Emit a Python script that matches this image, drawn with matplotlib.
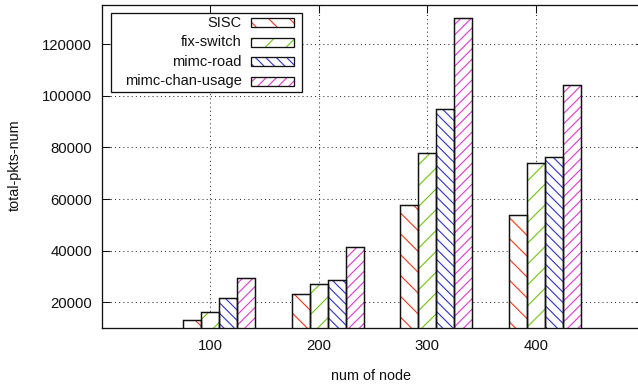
import matplotlib
matplotlib.use("Agg")
import matplotlib.pyplot as plt
from matplotlib.patches import Rectangle
import numpy as np

# ---- data ----
nodes = ["100", "200", "300", "400"]
sisc = [13200, 23200, 57700, 53800]
fix_switch = [16500, 27000, 78000, 73800]
mimc_road = [21900, 28700, 94800, 76200]
mimc_chan_usage = [29600, 41300, 130000, 104300]

series_names = ["SISC", "fix-switch", "mimc-road", "mimc-chan-usage"]
series_vals = [sisc, fix_switch, mimc_road, mimc_chan_usage]
series_colors = ["#ee3a1c", "#72c414", "#3434c8", "#dc3cd0"]
series_hatch = ["\\\\", "//", "\\\\\\\\", "////"]

DPI = 125
W_PX, H_PX = 638, 389
plt.rcParams["font.family"] = ["Liberation Sans", "DejaVu Sans"]
plt.rcParams["hatch.linewidth"] = 0.65

fig = plt.figure(figsize=(W_PX / DPI, H_PX / DPI), dpi=DPI)

# axes box in pixels
ax_l, ax_r, ax_t, ax_b = 101.7, 644.3, 5.3, 328.3
ax = fig.add_axes([ax_l / W_PX, 1 - ax_b / H_PX,
                   (ax_r - ax_l) / W_PX, (ax_b - ax_t) / H_PX])

x = np.arange(len(nodes))
width = 1 / 6
offsets = [-1, 0, 1, 2]

for vals, col, hat, off in zip(series_vals, series_colors, series_hatch, offsets):
    pos = x + off * width
    ax.bar(pos, vals, width, color="white", edgecolor=col, hatch=hat,
           linewidth=0, zorder=2)
    ax.bar(pos, vals, width, fill=False, edgecolor="#111111",
           linewidth=0.85, zorder=3)

ax.set_xlim(-1, 4)
ax.set_ylim(10000, 135000)
ax.set_xticks(x)
ax.set_xticklabels(nodes)
ax.set_yticks(np.arange(20000, 130001, 20000))

ax.grid(True, color="#333333", linestyle=(0, (1, 3)), linewidth=0.6, zorder=0)
ax.set_axisbelow(True)

for s in ax.spines.values():
    s.set_linewidth(0.75)
    s.set_color("#111111")
    s.set_zorder(4)

ax.tick_params(axis="both", direction="in", length=4.6, width=0.6,
               labelsize=8.6, colors="#111111", top=True, right=True)
ax.tick_params(axis="x", pad=6.0)
ax.tick_params(axis="y", pad=5.6)

ax.set_xlabel("num of node", fontsize=8.3, color="#111111")
ax.xaxis.set_label_coords((371.3 - ax_l) / (ax_r - ax_l), (ax_b - 376.5) / (ax_b - ax_t))
ax.xaxis.label.set_va("center")
ax.set_ylabel("total-pkts-num", fontsize=8.3, color="#111111")
ax.yaxis.set_label_coords((15 - ax_l) / (ax_r - ax_l), (ax_b - 165) / (ax_b - ax_t))
ax.yaxis.label.set_va("center")


# ---- key box ----
def fx(px):
    return px / W_PX


def fy(py):
    return 1 - py / H_PX


key_l, key_r, key_t, key_b = 110.7, 302.3, 13.3, 91.7
fig.add_artist(Rectangle((fx(key_l), fy(key_b)), fx(key_r) - fx(key_l),
                         fy(key_t) - fy(key_b), transform=fig.transFigure,
                         facecolor="white", edgecolor="#111111",
                         linewidth=0.75, zorder=5))
row_y = [22.8, 42.3, 61.8, 81.2]
for name, col, hat, ry in zip(series_names, series_colors, series_hatch, row_y):
    fig.text(fx(241.5), fy(ry), name, ha="right", va="center",
             fontsize=8.4, color="#111111", zorder=6)
    x0, x1 = 250.7, 294.0
    y0, y1 = ry - 4.5, ry + 4.5
    fig.add_artist(Rectangle((fx(x0), fy(y1)), fx(x1) - fx(x0), fy(y0) - fy(y1),
                             transform=fig.transFigure, facecolor="white",
                             edgecolor=col, hatch=hat, linewidth=0, zorder=6))
    fig.add_artist(Rectangle((fx(x0), fy(y1)), fx(x1) - fx(x0), fy(y0) - fy(y1),
                             transform=fig.transFigure, fill=False,
                             edgecolor="#111111", linewidth=0.75, zorder=7))

fig.savefig("out.png", dpi=DPI)
